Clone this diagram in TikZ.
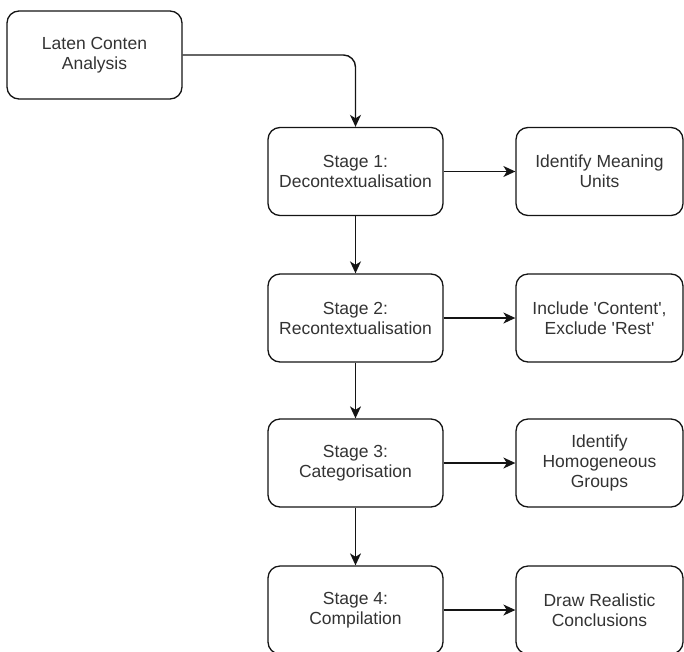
\documentclass[tikz,border=0pt]{standalone}
\usepackage{fontspec}
\setmainfont{Liberation Sans}
\usetikzlibrary{arrows.meta,positioning}
\definecolor{boxtext}{RGB}{51,51,51}
\definecolor{boxline}{RGB}{20,20,20}

\begin{document}
\begin{tikzpicture}[x=1pt,y=-1pt,
        stagebox/.style={draw=boxline,line width=1.3pt,rounded corners=12pt,minimum width=175pt,minimum height=88pt,inner sep=0pt,align=center,text=boxtext,font=\fontsize{17.5}{20}\selectfont},
        outbox/.style={stagebox,minimum width=167pt},
        flow/.style={draw=boxline,line width=1.4pt,-{Stealth[length=12pt,width=11pt,inset=3.5pt]}}]
        \useasboundingbox (0,0) rectangle (684,651);
        \node[stagebox] (lca) at (94.5,55) {Laten Conten\\Analysis};
        \node[stagebox] (stage1) at (355.5,171.5) {Stage 1:\\Decontextualisation};
        \node[stagebox] (stage2) at (355.5,318) {Stage 2:\\Recontextualisation};
        \node[stagebox] (stage3) at (355.5,463) {Stage 3:\\Categorisation};
        \node[stagebox] (stage4) at (355.5,610) {Stage 4:\\Compilation};
        \node[outbox] (units) at (599.5,171.5) {Identify Meaning\\Units};
        \node[outbox] (content) at (599.5,318) {Include \textquotesingle Content\textquotesingle,\\Exclude \textquotesingle Rest\textquotesingle};
        \node[outbox] (groups) at (599.5,463) {Identify\\Homogeneous\\Groups};
        \node[outbox] (concl) at (599.5,610) {Draw Realistic\\Conclusions};
        \draw[flow,rounded corners=12pt] (lca.east) -| (stage1.north);
        \draw[flow] (stage1) -- (stage2);
        \draw[flow] (stage2) -- (stage3);
        \draw[flow] (stage3) -- (stage4);
        \draw[flow] (stage1) -- (units);
        \draw[flow] (stage2) -- (content);
        \draw[flow] (stage3) -- (groups);
        \draw[flow] (stage4) -- (concl);
      \end{tikzpicture}
\end{document}
